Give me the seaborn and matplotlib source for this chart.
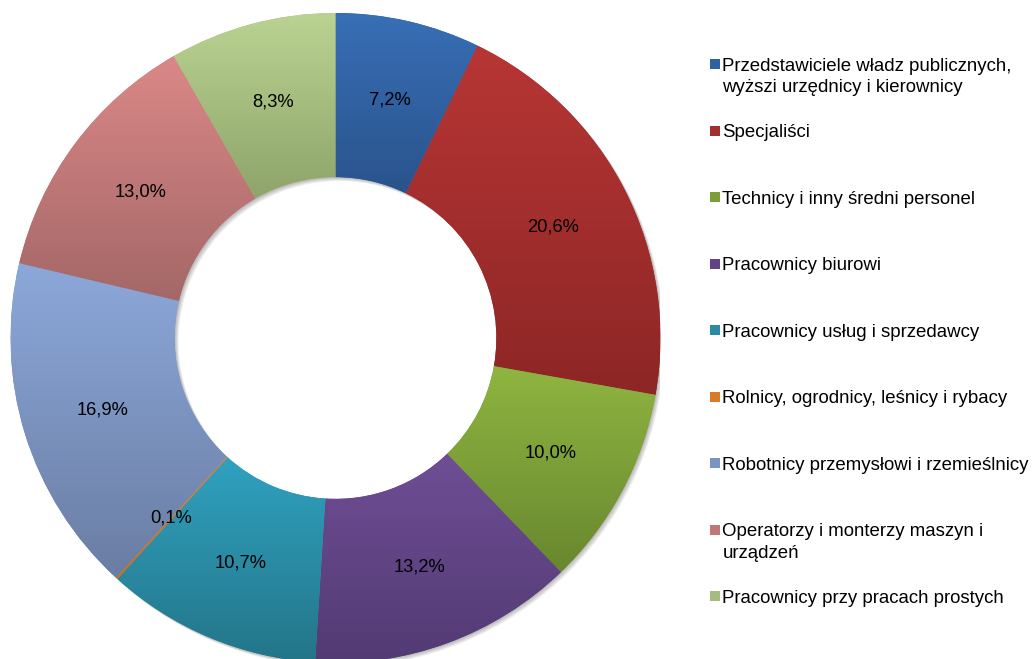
import numpy as np
import matplotlib
matplotlib.use("Agg")
import matplotlib.pyplot as plt
from matplotlib.patches import Rectangle, Wedge
from matplotlib.colors import to_rgb
import seaborn as sns

categories = [
    "Przedstawiciele władz publicznych,\nwyższi urzędnicy i kierownicy",
    "Specjaliści",
    "Technicy i inny średni personel",
    "Pracownicy biurowi",
    "Pracownicy usług i sprzedawcy",
    "Rolnicy, ogrodnicy, leśnicy i rybacy",
    "Robotnicy przemysłowi i rzemieślnicy",
    "Operatorzy i monterzy maszyn i\nurządzeń",
    "Pracownicy przy pracach prostych",
]
values = [7.2, 20.6, 10.0, 13.2, 10.7, 0.1, 16.9, 13.0, 8.3]

top_colors = ["#386FB6", "#B73634", "#8FB541", "#6F4E95", "#30A2C1",
              "#E8852F", "#8CA8DA", "#DA8887", "#BAD392"]
bottom_colors = ["#2A538C", "#8D2626", "#68872E", "#523A73", "#237588",
                 "#C76E22", "#6A7DA3", "#A46767", "#8EA46A"]
mid_colors = [tuple((np.array(to_rgb(a)) + np.array(to_rgb(b))) / 2)
              for a, b in zip(top_colors, bottom_colors)]

sns.set_theme(style="white")
plt.rcParams["font.family"] = ["Liberation Sans", "DejaVu Sans"]

W, H = 1033, 659
fig = plt.figure(figsize=(W / 100, H / 100), dpi=100)
fig.patch.set_facecolor("white")

cx, cy, R = 335.5, 338.0, 325.0
ax = fig.add_axes([(cx - R) / W, (H - cy - R) / H, 2 * R / W, 2 * R / H])
ax.set_axis_off()

RING_W = 0.505

# soft drop shadow (down-right)
for k, off in enumerate([0.003, 0.006, 0.009, 0.012]):
    ax.add_patch(Wedge((off, -off), 1.0, 0, 360, width=RING_W,
                       facecolor="black", edgecolor="none", alpha=0.07, zorder=0))

vals_iter = iter(values)
def fmt(p):
    v = next(vals_iter)
    return f"{v:.1f}%".replace(".", ",")

wedges, texts, autotexts = ax.pie(
    values, colors=mid_colors, startangle=90, counterclock=False, radius=1.0,
    wedgeprops=dict(width=RING_W, linewidth=0, antialiased=True, zorder=2),
    pctdistance=0.75, autopct=fmt,
    textprops=dict(fontsize=13.2, color="black"),
)

# vertical gradient within each slice
for w, tc, bc in zip(wedges, top_colors, bottom_colors):
    ext = w.get_path().get_extents()
    t = np.linspace(0, 1, 256)[:, None]
    grad = (1 - t) * np.array(to_rgb(tc))[None, :] + t * np.array(to_rgb(bc))[None, :]
    grad = grad[:, None, :]
    im = ax.imshow(grad, extent=(ext.x0, ext.x1, ext.y0, ext.y1), origin="upper",
                   aspect="auto", interpolation="bilinear", zorder=3)
    im.set_clip_path(w)

for t_ in autotexts:
    t_.set_zorder(10)

ax.set_xlim(-1, 1)
ax.set_ylim(-1, 1)
ax.set_aspect("equal")

# legend (Excel style, evenly spaced entries)
y0, dy = 64.0, 66.5
fs = 13.4
for i, (lab, col) in enumerate(zip(categories, mid_colors)):
    yc = y0 + dy * i
    fig.add_artist(Rectangle((709.5 / W, 1 - (yc + 5) / H), 10.5 / W, 10 / H,
                             transform=fig.transFigure, facecolor=col,
                             edgecolor="none"))
    for j, line in enumerate(lab.split("\n")):
        fig.text(722.5 / W, 1 - (yc + 6.6 + 21.7 * j) / H, line, fontsize=fs,
                 color="black", va="baseline", ha="left")

fig.savefig("out.png", dpi=100, facecolor="white")
